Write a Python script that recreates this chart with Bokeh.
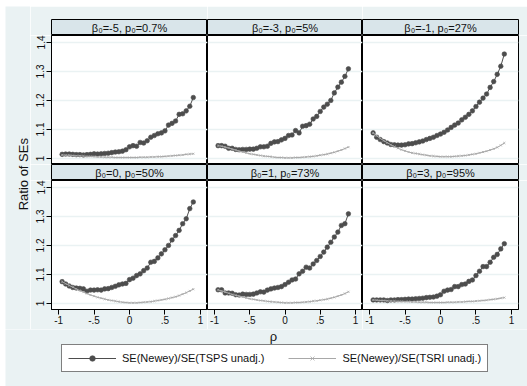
import math
from bokeh.plotting import figure
from bokeh.models import (Range1d, LinearAxis, FixedTicker, Grid, Label, Legend,
                          LegendItem, ColumnDataSource, CustomJSTickFormatter, Spacer)
from bokeh.layouts import row, column
from bokeh.embed import file_html
from bokeh.resources import INLINE

# ---------------- data ----------------
rho = [-0.95, -0.90, -0.85, -0.80, -0.75, -0.70, -0.65, -0.60, -0.55, -0.50,
       -0.45, -0.40, -0.35, -0.30, -0.25, -0.20, -0.15, -0.10, -0.05, 0.00,
       0.05, 0.10, 0.15, 0.20, 0.25, 0.30, 0.35, 0.40, 0.45, 0.50,
       0.55, 0.60, 0.65, 0.70, 0.75, 0.80, 0.85, 0.90]

panel_titles = ["β₀=-5, p₀=0.7%", "β₀=-3, p₀=5%", "β₀=-1, p₀=27%",
                "β₀=0, p₀=50%", "β₀=1, p₀=73%", "β₀=3, p₀=95%"]

# SE(Newey)/SE(TSPS unadj.)
tsps_m5 = [1.014, 1.015, 1.015, 1.014, 1.013, 1.013, 1.012, 1.013, 1.014, 1.016,
           1.015, 1.016, 1.017, 1.018, 1.020, 1.022, 1.023, 1.025, 1.030, 1.040,
           1.044, 1.042, 1.055, 1.053, 1.061, 1.073, 1.079, 1.085, 1.088, 1.095,
           1.115, 1.121, 1.129, 1.152, 1.154, 1.164, 1.180, 1.210]
tsps_m3 = [1.044, 1.044, 1.042, 1.035, 1.035, 1.031, 1.030, 1.031, 1.031, 1.032,
           1.032, 1.035, 1.040, 1.040, 1.042, 1.052, 1.057, 1.058, 1.064, 1.069,
           1.079, 1.081, 1.096, 1.088, 1.111, 1.113, 1.118, 1.136, 1.145, 1.162,
           1.177, 1.187, 1.200, 1.226, 1.246, 1.263, 1.283, 1.309]
tsps_m1 = [1.088, 1.073, 1.065, 1.058, 1.053, 1.048, 1.047, 1.046, 1.046, 1.047,
           1.050, 1.051, 1.054, 1.057, 1.060, 1.065, 1.069, 1.073, 1.079, 1.084,
           1.090, 1.098, 1.107, 1.115, 1.122, 1.133, 1.142, 1.152, 1.164, 1.179,
           1.194, 1.208, 1.222, 1.245, 1.265, 1.290, 1.318, 1.360]
tsps_0 = [1.075, 1.067, 1.060, 1.055, 1.053, 1.052, 1.050, 1.042, 1.046, 1.046,
          1.047, 1.046, 1.050, 1.051, 1.055, 1.059, 1.064, 1.067, 1.069, 1.082,
          1.087, 1.096, 1.102, 1.113, 1.122, 1.142, 1.145, 1.157, 1.171, 1.185,
          1.200, 1.219, 1.234, 1.252, 1.275, 1.292, 1.327, 1.350]
tsps_p1 = [1.047, 1.047, 1.036, 1.036, 1.035, 1.030, 1.029, 1.032, 1.031, 1.031,
           1.032, 1.036, 1.040, 1.039, 1.046, 1.050, 1.053, 1.055, 1.058, 1.065,
           1.073, 1.081, 1.084, 1.102, 1.111, 1.125, 1.122, 1.136, 1.148, 1.162,
           1.177, 1.194, 1.211, 1.229, 1.246, 1.269, 1.275, 1.309]
tsps_p3 = [1.012, 1.012, 1.012, 1.012, 1.010, 1.012, 1.012, 1.013, 1.013, 1.014,
           1.015, 1.015, 1.016, 1.017, 1.018, 1.020, 1.021, 1.022, 1.025, 1.030,
           1.042, 1.046, 1.048, 1.058, 1.058, 1.065, 1.067, 1.076, 1.081, 1.096,
           1.111, 1.127, 1.127, 1.142, 1.159, 1.169, 1.188, 1.206]

# SE(Newey)/SE(TSRI unadj.)
tsri_m5 = [1.012, 1.011, 1.011, 1.010, 1.009, 1.009, 1.008, 1.007, 1.007, 1.006,
           1.005, 1.005, 1.004, 1.004, 1.004, 1.003, 1.003, 1.003, 1.003, 1.003,
           1.003, 1.003, 1.004, 1.004, 1.004, 1.005, 1.005, 1.006, 1.006, 1.007,
           1.008, 1.009, 1.010, 1.011, 1.012, 1.014, 1.015, 1.016]
tsri_m3 = [1.044, 1.042, 1.039, 1.036, 1.032, 1.029, 1.025, 1.022, 1.019, 1.016,
           1.014, 1.012, 1.010, 1.008, 1.007, 1.006, 1.004, 1.003, 1.003, 1.002,
           1.002, 1.002, 1.003, 1.003, 1.004, 1.005, 1.006, 1.007, 1.009, 1.011,
           1.013, 1.015, 1.018, 1.021, 1.025, 1.029, 1.034, 1.039]
tsri_m1 = [1.088, 1.078, 1.069, 1.061, 1.054, 1.047, 1.041, 1.035, 1.030, 1.026,
           1.022, 1.019, 1.017, 1.015, 1.013, 1.011, 1.009, 1.008, 1.007, 1.006,
           1.006, 1.006, 1.006, 1.007, 1.008, 1.009, 1.010, 1.012, 1.014, 1.016,
           1.019, 1.022, 1.025, 1.029, 1.033, 1.038, 1.045, 1.053]
tsri_0 = [1.075, 1.068, 1.062, 1.056, 1.050, 1.044, 1.039, 1.034, 1.029, 1.025,
          1.021, 1.018, 1.015, 1.012, 1.010, 1.008, 1.006, 1.004, 1.003, 1.002,
          1.002, 1.002, 1.003, 1.004, 1.005, 1.006, 1.008, 1.010, 1.012, 1.014,
          1.017, 1.020, 1.023, 1.027, 1.032, 1.037, 1.043, 1.049]
tsri_p1 = [1.047, 1.043, 1.039, 1.035, 1.031, 1.028, 1.025, 1.022, 1.019, 1.016,
           1.014, 1.012, 1.010, 1.009, 1.007, 1.006, 1.005, 1.004, 1.003, 1.002,
           1.002, 1.002, 1.003, 1.003, 1.004, 1.005, 1.006, 1.008, 1.009, 1.011,
           1.013, 1.015, 1.018, 1.021, 1.025, 1.029, 1.034, 1.040]
tsri_p3 = [1.012, 1.011, 1.010, 1.010, 1.009, 1.008, 1.008, 1.007, 1.007, 1.006,
           1.006, 1.005, 1.005, 1.004, 1.004, 1.004, 1.003, 1.003, 1.003, 1.003,
           1.003, 1.004, 1.004, 1.004, 1.005, 1.005, 1.006, 1.007, 1.007, 1.008,
           1.009, 1.010, 1.011, 1.013, 1.014, 1.016, 1.018, 1.020]

tsps_series = [tsps_m5, tsps_m3, tsps_m1, tsps_0, tsps_p1, tsps_p3]
tsri_series = [tsri_m5, tsri_m3, tsri_m1, tsri_0, tsri_p1, tsri_p3]

y_ticks = [1, 1.1, 1.2, 1.3, 1.4]
x_ticks = [-1, -0.5, 0, 0.5, 1]
legend_labels = ["SE(Newey)/SE(TSPS unadj.)", "SE(Newey)/SE(TSRI unadj.)"]
x_title = "ρ"
y_title = "Ratio of SEs"

# ---------------- style ----------------
BG = "#EAF2F3"
STRIP = "#D9E5EA"
DARK = "#4d4d4d"
LIGHT = "#a8a8a8"
FONT = "Liberation Sans"
DOT = dict(marker="circle", size=4.6, fill_color=DARK, line_color=DARK, line_width=0.6)
CROSS = dict(marker="x", size=3, line_color=LIGHT, line_width=0.8)

YLAB_W = 25
frame_w = [156, 155, 156]
left_b = [21, 0, 0]
right_b = [0, 0, 9]
FRAME_H = 129
STRIP_H = 16
TOP_GAP = 13
XAXIS_H = 20

fmt_code = r"return String(Math.round(tick*100)/100).replace(/^(-?)0\./, '$1.');"


def base_fig(ci, height, xr, yr, top=0, bottom=0, bg="white"):
    return figure(width=left_b[ci] + frame_w[ci] + right_b[ci], height=height,
                  x_range=xr, y_range=yr, x_axis_type=None, y_axis_type=None,
                  toolbar_location=None, output_backend="svg", title=None,
                  min_border_left=left_b[ci], min_border_right=right_b[ci],
                  min_border_top=top, min_border_bottom=bottom,
                  background_fill_color=bg, border_fill_color=BG,
                  outline_line_color="black", outline_line_width=1)


def strip_fig(ci, ri, text):
    top = TOP_GAP if ri == 0 else 0
    p = base_fig(ci, STRIP_H + top, Range1d(0, 1), Range1d(0, 1), top=top, bg=STRIP)
    p.add_layout(Label(x=0.5, y=0.5, text=text, text_align="center",
                       text_baseline="middle", text_font=FONT,
                       text_font_size="11px", text_color="#111111"))
    return p


def style_axis(ax, standoff):
    ax.axis_line_color = "black"
    ax.major_tick_in = 0
    ax.major_tick_out = 5
    ax.major_tick_line_color = "black"
    ax.minor_tick_line_color = None
    ax.major_label_text_font = FONT
    ax.major_label_text_font_size = "10px"
    ax.major_label_text_color = "#111111"
    ax.major_label_standoff = standoff


def panel_fig(ci, ri, k):
    bottom = XAXIS_H if ri == 1 else 0
    p = base_fig(ci, FRAME_H + bottom, Range1d(-1.1, 1.1), Range1d(0.979, 1.424),
                 bottom=bottom)
    p.add_layout(Grid(dimension=1, ticker=FixedTicker(ticks=y_ticks),
                      grid_line_color=BG, grid_line_width=1.5))
    if ci == 0:
        ya = LinearAxis(ticker=FixedTicker(ticks=y_ticks),
                        formatter=CustomJSTickFormatter(code=fmt_code),
                        major_label_orientation="vertical")
        style_axis(ya, 2)
        p.add_layout(ya, "left")
    if ri == 1:
        xa = LinearAxis(ticker=FixedTicker(ticks=x_ticks),
                        formatter=CustomJSTickFormatter(code=fmt_code))
        style_axis(xa, 1)
        p.add_layout(xa, "below")
    src = ColumnDataSource(data=dict(rho=rho, tsps=tsps_series[k], tsri=tsri_series[k]))
    p.line("rho", "tsps", source=src, line_color=DARK, line_width=1)
    p.scatter("rho", "tsps", source=src, **DOT)
    p.line("rho", "tsri", source=src, line_color=LIGHT, line_width=1)
    p.scatter("rho", "tsri", source=src, **CROSS)
    return p


cols = []
for ci in range(3):
    kids = []
    for ri in range(2):
        k = ri * 3 + ci
        kids.append(strip_fig(ci, ri, panel_titles[k]))
        kids.append(panel_fig(ci, ri, k))
    cols.append(column(*kids))

main_h = TOP_GAP + 2 * (STRIP_H + FRAME_H) + XAXIS_H   # 323

# y-axis title panel
ylab = figure(width=YLAB_W, height=main_h, x_range=Range1d(0, YLAB_W),
              y_range=Range1d(0, main_h), x_axis_type=None, y_axis_type=None,
              toolbar_location=None, output_backend="svg", title=None, min_border=0,
              background_fill_color=BG, border_fill_color=BG, outline_line_color=None)
ylab.add_layout(Label(x=17.5, y=main_h - 167.7, text=y_title, angle=math.pi / 2,
                      text_align="center", text_baseline="middle",
                      text_font=FONT, text_font_size="13px", text_color="#111111"))

# bottom area: x title + legend
BW, BH = 522, 57
bot = figure(width=BW, height=BH, x_range=Range1d(0, BW), y_range=Range1d(0, BH),
             x_axis_type=None, y_axis_type=None, toolbar_location=None,
             output_backend="svg", title=None, min_border=0,
             background_fill_color=BG, border_fill_color=BG, outline_line_color=None)
bot.extra_y_ranges = {"off": Range1d(50, 60)}   # legend renderers kept out of view
bot.add_layout(Label(x=268, y=BH - 6.5, text=x_title, text_align="center",
                     text_baseline="alphabetic", text_font=FONT,
                     text_font_size="13px", text_color="#111111"))
lsrc = ColumnDataSource(data=dict(rho=rho, tsps=tsps_series[0], tsri=tsri_series[0]))
l1 = bot.line("rho", "tsps", source=lsrc, line_color=DARK, line_width=1, y_range_name="off")
s1 = bot.scatter("rho", "tsps", source=lsrc, y_range_name="off", **DOT)
l2 = bot.line("rho", "tsri", source=lsrc, line_color=LIGHT, line_width=1, y_range_name="off")
s2 = bot.scatter("rho", "tsri", source=lsrc, y_range_name="off", **CROSS)
legend = Legend(items=[LegendItem(label=legend_labels[0], renderers=[l1, s1]),
                       LegendItem(label=legend_labels[1], renderers=[l2, s2])],
                orientation="horizontal", location=(56, 14),
                border_line_color="black", border_line_width=1,
                background_fill_color="white", background_fill_alpha=1,
                padding=6, spacing=24, margin=0, glyph_width=48, glyph_height=14,
                label_height=14, label_standoff=6, label_text_font=FONT,
                label_text_font_size="11px", label_text_color="#111111")
bot.add_layout(legend)

body = column(row(ylab, *cols), bot)
layout = column(Spacer(width=527, height=6), row(Spacer(width=5, height=380), body))

open("out.html", "w").write(file_html(layout, INLINE))
